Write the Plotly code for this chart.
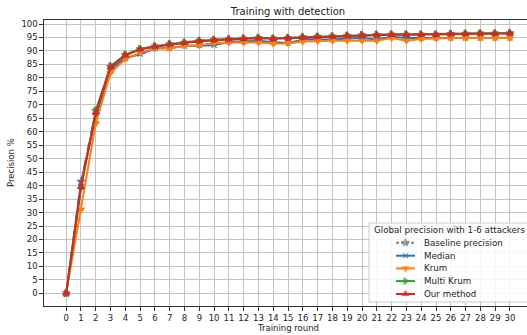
import plotly.graph_objects as go

rounds = list(range(31))

baseline = [0, 41.5, 67.8, 84.2, 88.5, 90.7, 91.7, 92.5, 93.1, 93.7, 94.1, 94.4, 94.6, 94.8,
            94.6, 94.8, 95.1, 95.3, 95.4, 95.7, 95.9, 96.0, 96.1, 96.1, 96.1, 96.1, 96.3, 96.4, 96.5, 96.5, 96.6]
median = [0, 41.0, 65.6, 83.1, 87.4, 88.8, 90.9, 91.1, 91.8, 92.0, 92.1, 93.4, 93.5, 93.7,
          93.3, 92.9, 94.3, 94.3, 94.3, 94.6, 94.8, 94.3, 95.3, 94.8, 94.8, 94.8, 94.8, 94.8, 94.8, 94.8, 94.8]
krum = [0, 31.1, 63.1, 81.9, 86.9, 89.4, 90.9, 90.9, 91.9, 92.1, 92.9, 93.1, 93.1, 93.1,
        92.7, 92.8, 93.5, 93.7, 93.8, 93.8, 93.8, 93.8, 94.8, 93.8, 94.4, 94.7, 94.8, 94.8, 94.8, 94.8, 94.8]
multi_krum = [0, 39.1, 67.8, 84.4, 88.6, 90.8, 91.8, 92.6, 93.2, 93.8, 94.2, 94.4, 94.7, 94.9,
              94.7, 94.9, 95.2, 95.4, 95.5, 95.8, 96.0, 96.1, 96.2, 96.2, 96.2, 96.2, 96.4, 96.5, 96.6, 96.6, 96.7]
our_method = [0, 39.5, 67.1, 84.0, 88.4, 90.6, 91.6, 92.4, 93.0, 93.6, 94.0, 94.3, 94.5, 94.7,
              94.5, 94.7, 95.0, 95.2, 95.3, 95.6, 95.8, 95.9, 96.0, 96.0, 96.0, 96.0, 96.2, 96.3, 96.4, 96.4, 96.5]

y_ticks = list(range(0, 101, 5))

legend_title = "Global precision with 1-6 attackers"

FONT = "DejaVu Sans"
W, H = 527, 335
L, R, T, B = 44, 0, 20, 29
PW, PH = W - L - R, H - T - B


def px_x(px):
    """Horizontal pixel position -> paper fraction of the plotting area."""
    return (px - L) / PW


def px_y(py):
    """Vertical pixel position (from top) -> paper fraction of the plotting area."""
    return (H - B - py) / PH


series = [
    ("Baseline precision", baseline, "#7f7f7f", "dash", "star", 6),
    ("Median", median, "#1f77b4", "solid", "x-thin-open", 5),
    ("Krum", krum, "#ff7f0e", "solid", "triangle-down", 6),
    ("Multi Krum", multi_krum, "#2ca02c", "solid", "triangle-right", 6),
    ("Our method", our_method, "#d62728", "solid", "triangle-up", 6),
]

fig = go.Figure()
for name, vals, color, dash, symbol, size in series:
    fig.add_trace(go.Scatter(
        x=rounds, y=vals, name=name, mode="lines+markers", showlegend=False,
        line=dict(color=color, width=2, dash=dash),
        marker=dict(symbol=symbol, size=size, color=color,
                    line=dict(color=color, width=1.2)),
    ))

# Legend drawn on an overlay axis measured in pixels of the plotting area
lx2, ly2 = "x2", "y2"
box_l, box_t, box_b = 369, 223, 302
fig.add_trace(go.Scatter(
    x=[box_l, 540, 540, box_l, box_l], y=[box_t, box_t, box_b, box_b, box_t],
    xaxis=lx2, yaxis=ly2, mode="lines", fill="toself",
    fillcolor="rgba(255,255,255,0.85)", line=dict(color="#cccccc", width=1),
    hoverinfo="skip", showlegend=False,
))
fig.add_annotation(x=449, y=230, xref=lx2, yref=ly2, text=legend_title,
                   showarrow=False, xanchor="center", yanchor="middle",
                   font=dict(family=FONT, size=8.7, color="#222"))
entry_y = [242.7, 255.7, 268.4, 281.1, 294]
for (name, vals, color, dash, symbol, size), ey in zip(series, entry_y):
    fig.add_trace(go.Scatter(
        x=[396, 405.5, 415], y=[ey, ey, ey], xaxis=lx2, yaxis=ly2,
        mode="lines+markers", hoverinfo="skip", showlegend=False,
        line=dict(color=color, width=2, dash="3px,2px" if dash == "dash" else "solid"),
        marker=dict(symbol=symbol, size=[0, size, 0], color=color,
                    line=dict(color=color, width=1.2)),
    ))
    fig.add_annotation(x=421.5, y=ey, xref=lx2, yref=ly2, text=name,
                       showarrow=False, xanchor="left", yanchor="middle",
                       font=dict(family=FONT, size=8.7, color="#222"))

fig.update_layout(
    width=W, height=H,
    margin=dict(l=L, r=R, t=T, b=B),
    paper_bgcolor="white", plot_bgcolor="white",
    font=dict(family=FONT, size=8.5, color="#222"),
    title=dict(text="Training with detection", x=px_x(288), xanchor="center",
               xref="paper", y=1 - 11 / H, yref="container", yanchor="middle",
               font=dict(family=FONT, size=10, color="#222")),
    showlegend=False,
    xaxis=dict(
        range=[-1.5, 31.15], tickmode="array", tickvals=rounds,
        ticktext=[str(r) for r in rounds],
        showgrid=True, gridcolor="#c4c4c4", gridwidth=1,
        showline=True, linecolor="#333", linewidth=1.2, mirror=True,
        ticks="outside", ticklen=3.5, tickcolor="#333", zeroline=False,
    ),
    yaxis=dict(
        range=[-4.7, 101.5], tickmode="array", tickvals=y_ticks,
        showgrid=True, gridcolor="#c4c4c4", gridwidth=1,
        showline=True, linecolor="#333", linewidth=1.2,
        ticks="outside", ticklen=3.5, tickcolor="#333", zeroline=False,
    ),
    xaxis2=dict(overlaying="x", range=[L, W - R], visible=False, fixedrange=True),
    yaxis2=dict(overlaying="y", range=[H - B, T], visible=False, fixedrange=True),
)

# Axis titles
fig.add_annotation(x=px_x(288), y=px_y(328), xref="paper", yref="paper",
                   text="Training round", showarrow=False,
                   xanchor="center", yanchor="middle",
                   font=dict(family=FONT, size=8.5, color="#222"))
fig.add_annotation(x=px_x(11), y=px_y(163), xref="paper", yref="paper",
                   text="Precision %", textangle=-90,
                   showarrow=False, xanchor="center", yanchor="middle",
                   font=dict(family=FONT, size=8.5, color="#222"))

fig.write_html("out.html")
